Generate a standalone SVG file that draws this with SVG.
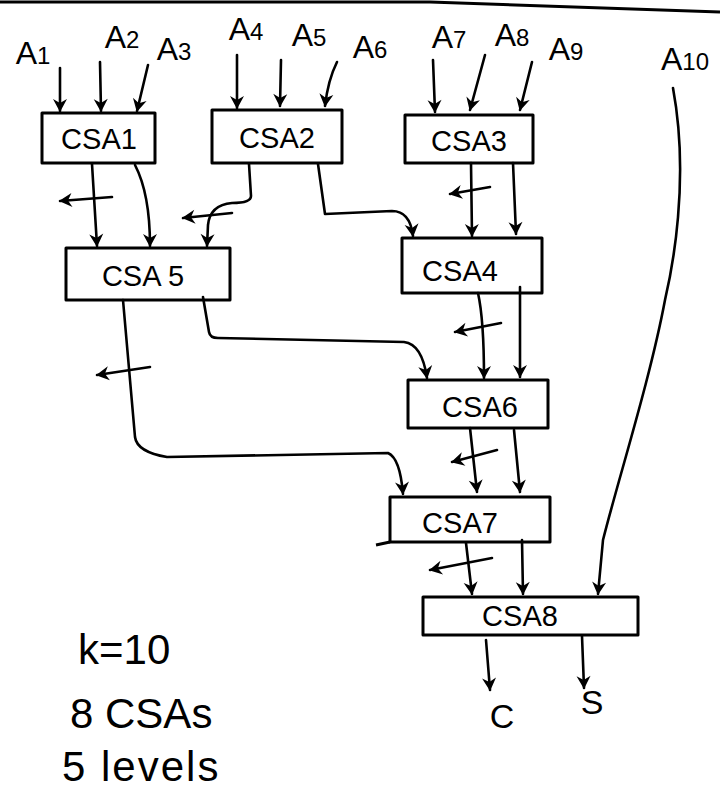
<svg xmlns="http://www.w3.org/2000/svg" width="720" height="795" viewBox="0 0 720 795">
<style>
.box{fill:none;stroke:#000;stroke-width:3;stroke-linejoin:round}
.lbl{font-family:"Liberation Sans",Arial,sans-serif;font-size:29px;fill:#000;text-anchor:middle}
.out{font-family:"Liberation Sans",Arial,sans-serif;font-size:34px;fill:#000;text-anchor:middle}
.in{font-family:"Liberation Sans",Arial,sans-serif;font-size:32px;fill:#000;text-anchor:middle}
.sub{font-size:24px}
.note{font-family:"Liberation Sans",Arial,sans-serif;font-size:42px;fill:#000}
.w{fill:none;stroke:#000;stroke-width:2.6;stroke-linecap:round;stroke-linejoin:round}
.a{marker-end:url(#ah)}
</style>
<defs>
<marker id="ah" markerWidth="16" markerHeight="16" refX="13" refY="8" orient="auto" markerUnits="userSpaceOnUse">
<path d="M1,1 L14,8 L1,15 L5,8 z" fill="#000"/>
</marker>
</defs>
<rect width="720" height="795" fill="#fff"/>
<polyline points="0,2 430,2 720,12" fill="none" stroke="#000" stroke-width="3"/>

<g id="inputs">
<text class="in" x="33" y="64">A<tspan class="sub">1</tspan></text>
<text class="in" x="122" y="48">A<tspan class="sub">2</tspan></text>
<text class="in" x="174" y="60">A<tspan class="sub">3</tspan></text>
<text class="in" x="246" y="40">A<tspan class="sub">4</tspan></text>
<text class="in" x="309" y="46">A<tspan class="sub">5</tspan></text>
<text class="in" x="370" y="58">A<tspan class="sub">6</tspan></text>
<text class="in" x="449" y="48">A<tspan class="sub">7</tspan></text>
<text class="in" x="512" y="46">A<tspan class="sub">8</tspan></text>
<text class="in" x="566" y="60">A<tspan class="sub">9</tspan></text>
<text class="in" x="685" y="70">A<tspan class="sub">10</tspan></text>
</g>

<g id="CSA1"><rect class="box" x="42" y="113" width="113" height="50"/><text class="lbl" x="99" y="149">CSA1</text></g>
<g id="CSA2"><rect class="box" x="212" y="110" width="130" height="53"/><text class="lbl" x="277" y="148">CSA2</text></g>
<g id="CSA3"><rect class="box" x="405" y="115" width="128" height="48"/><text class="lbl" x="469" y="151">CSA3</text></g>
<g id="CSA5"><rect class="box" x="66" y="248" width="164" height="52"/><text class="lbl" x="143" y="286">CSA 5</text></g>
<g id="CSA4"><rect class="box" x="402" y="238" width="140" height="55"/><text class="lbl" x="460" y="281">CSA4</text></g>
<g id="CSA6"><rect class="box" x="408" y="380" width="140" height="48"/><text class="lbl" x="480" y="417">CSA6</text></g>
<g id="CSA7"><rect class="box" x="390" y="497" width="160" height="45"/><path class="box" d="M390,542 L376,545"/><text class="lbl" x="460" y="533">CSA7</text></g>
<g id="CSA8"><rect class="box" x="423" y="597" width="215" height="38"/><text class="lbl" x="520" y="626">CSA8</text></g>

<g id="connectors">
<path class="w a" d="M60,68 L60,111"/>
<path class="w a" d="M100,62 L101,111"/>
<path class="w a" d="M148,65 L137,111"/>
<path class="w a" d="M237,55 L237,108"/>
<path class="w a" d="M281,60 L280,106"/>
<path class="w a" d="M337,62 Q328,80 325,106"/>
<path class="w a" d="M433,60 L435,112"/>
<path class="w a" d="M485,55 L470,110"/>
<path class="w a" d="M532,62 L520,110"/>
<path class="w a" d="M673,88 C690,180 672,270 665,300 C650,380 618,480 603,540 L598,594"/>

<path class="w a" d="M92,164 L97,246"/>
<path class="w a" d="M135,165 C148,190 150,220 150,246"/>
<path class="w a" d="M112,197 L60,201"/>

<path class="w a" d="M249,164 L251,196 Q251,203 232,203 Q210,205 208,225 L207,246"/>
<path class="w a" d="M232,213 L183,218"/>
<path class="w a" d="M318,164 L325,214 L392,211 Q410,211 413,236"/>

<path class="w a" d="M471,163 L472,236"/>
<path class="w a" d="M513,163 L516,234"/>
<path class="w a" d="M490,187 L450,194"/>

<path class="w a" d="M478,293 Q484,320 484,378"/>
<path class="w a" d="M520,287 L520,377"/>
<path class="w a" d="M501,323 L455,332"/>

<path class="w a" d="M123,300 L135,437 Q137,452 167,457 L388,453 Q400,458 403,494"/>
<path class="w a" d="M150,367 L97,375"/>
<path class="w a" d="M203,297 L209,332 Q210,338 218,338 L404,342 Q422,344 427,378"/>

<path class="w a" d="M470,428 L477,492"/>
<path class="w a" d="M514,430 L520,492"/>
<path class="w a" d="M497,450 L452,462"/>

<path class="w a" d="M466,543 L472,594"/>
<path class="w a" d="M522,540 L523,594"/>
<path class="w a" d="M492,558 L430,570"/>

<path class="w a" d="M486,640 L490,690"/>
<path class="w a" d="M582,636 L584,688"/>
</g>

<g id="outputs">
<text class="out" x="502" y="728">C</text>
<text class="out" x="592" y="714">S</text>
</g>

<g id="notes">
<text class="note" x="78" y="664">k=10</text>
<text class="note" x="70" y="728">8 CSAs</text>
<text class="note" x="62" y="781" letter-spacing="2">5 levels</text>
</g>
</svg>
